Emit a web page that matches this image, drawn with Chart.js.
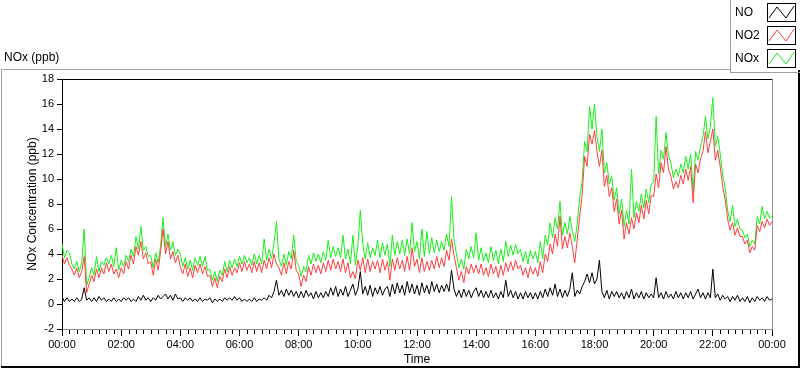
<!DOCTYPE html>
<html>
<head>
<meta charset="utf-8">
<script src="https://cdn.jsdelivr.net/npm/chart.js@4.4.1/dist/chart.umd.min.js"></script>
<style>
  body { margin: 0; background: #fff; }
  canvas { display: block; }
</style>
</head>
<body>
<canvas id="noxChart" width="800" height="369"></canvas>
<script>
// ===== DATA (5 minute steps, 00:00 -> 24:00) =====
const STEP_MIN = 5;

// NO2 (ppb) - red
const no2 = [
  3.9, 3.2, 3.7, 3.1, 2.8, 2.3, 2.9, 2.1, 2.6, 3.8, 0.9, 1.6,
  2.3, 1.8, 2.8, 2.1, 2.9, 2.4, 3.3, 2.6, 3.2, 2.4, 2.8, 2.1,
  2.9, 2.4, 3.4, 2.8, 3.9, 3.2, 4.6, 3.9, 5.0, 3.6, 4.1, 3.2,
  3.4, 2.3, 3.6, 2.7, 4.2, 6.0, 4.0, 5.0, 3.6, 4.2, 3.3, 3.9,
  3.0, 2.4, 3.2, 2.2, 2.9, 2.1, 3.1, 2.5, 3.2, 2.4, 3.0, 2.2,
  2.3, 1.4, 2.1, 1.3, 2.2, 1.8, 2.8, 2.1, 3.0, 2.3, 2.9, 2.5,
  3.3, 2.6, 3.4, 2.7, 3.2, 2.5, 3.4, 2.6, 3.3, 2.5, 3.5, 2.8,
  3.7, 2.9, 4.0, 3.2, 2.9, 2.3, 3.3, 2.4, 3.4, 2.8, 4.3, 2.7,
  2.4, 1.4, 2.3, 1.8, 3.0, 2.3, 3.2, 2.5, 3.1, 2.4, 3.3, 2.6,
  3.5, 2.7, 3.6, 2.8, 3.4, 2.6, 3.6, 2.5, 3.3, 2.1, 2.6, 2.0,
  3.5, 2.7, 3.7, 2.5, 3.6, 2.6, 3.4, 2.8, 3.5, 2.5, 3.6, 2.7,
  3.4, 1.9, 3.6, 2.7, 3.7, 2.8, 3.5, 2.6, 3.8, 2.7, 4.5, 3.0,
  3.6, 2.5, 3.7, 2.6, 3.4, 2.7, 3.5, 2.8, 3.8, 2.9, 3.7, 3.0,
  4.3, 3.5, 5.2, 3.9, 2.9, 1.9, 2.6, 1.7, 3.0, 2.4, 3.2, 2.5,
  3.1, 2.4, 3.2, 2.3, 2.9, 2.2, 3.2, 2.4, 3.0, 2.1, 3.1, 2.3,
  3.3, 2.6, 3.4, 2.7, 3.5, 2.8, 3.1, 2.3, 2.9, 2.1, 3.0, 2.4,
  2.9, 2.2, 3.4, 2.5, 4.0, 3.4, 4.8, 4.0, 5.6, 4.6, 7.0, 4.4,
  5.4, 4.5, 5.7, 4.6, 3.3, 5.2, 7.0, 8.8, 11.8, 11.0, 13.6, 12.8,
  13.9, 12.2, 11.0, 12.3, 9.4, 10.3, 8.6, 9.3, 7.4, 8.4, 6.4, 7.5,
  5.2, 6.5, 5.6, 6.9, 6.0, 7.3, 6.5, 7.9, 6.8, 8.3, 7.2, 8.7,
  8.6, 10.4, 9.3, 11.3, 10.5, 12.6, 10.8, 10.2, 9.2, 9.8, 9.3, 10.3,
  9.6, 10.8, 9.9, 11.0, 8.1, 11.2, 10.5, 11.6, 12.2, 13.8, 12.1, 13.0,
  14.0, 11.5, 12.3, 11.0, 9.4, 8.4, 6.8, 5.9, 6.5, 5.5, 6.1, 5.4,
  5.4, 4.8, 5.1, 4.1, 4.6, 4.3, 6.3, 5.8, 6.6, 6.1, 6.8, 6.3,
  6.6
];

// NOx (ppb) - green
const nox = [
  4.8, 3.7, 4.3, 4.1, 3.2, 2.8, 3.4, 2.6, 3.3, 6.0, 1.5, 2.1,
  2.9, 2.3, 3.8, 2.6, 3.4, 3.1, 3.7, 3.2, 3.9, 3.0, 4.5, 2.7,
  3.5, 3.0, 3.9, 3.4, 4.4, 3.8, 5.4, 4.4, 6.2, 4.3, 4.6, 3.8,
  3.9, 2.9, 4.1, 3.3, 4.7, 6.9, 4.6, 5.6, 4.3, 5.0, 3.9, 4.4,
  4.0, 3.0, 3.7, 2.8, 3.5, 2.7, 3.7, 3.1, 3.8, 3.0, 3.8, 2.7,
  2.8, 1.9, 2.6, 1.8, 2.7, 2.3, 3.4, 2.6, 3.5, 2.9, 3.6, 3.0,
  3.8, 3.2, 3.9, 3.3, 3.7, 3.1, 4.0, 3.2, 3.9, 3.2, 5.2, 3.5,
  4.4, 3.6, 4.9, 6.6, 3.6, 3.0, 4.0, 3.1, 4.2, 3.6, 5.5, 3.4,
  3.1, 2.2, 3.0, 2.6, 3.9, 3.2, 4.1, 3.4, 4.0, 3.3, 4.2, 3.5,
  5.1, 3.7, 4.6, 3.8, 4.5, 3.7, 5.5, 3.6, 4.4, 3.2, 5.5, 3.1,
  4.6, 7.5, 4.8, 3.6, 4.9, 3.7, 4.5, 3.9, 5.1, 3.7, 4.9, 3.9,
  4.8, 3.0, 5.5, 3.9, 5.0, 4.0, 5.1, 3.9, 5.2, 4.0, 6.5, 4.2,
  5.0, 3.6, 6.0, 3.8, 5.8, 4.0, 5.3, 4.1, 5.1, 4.2, 5.0, 4.3,
  5.6, 4.6, 8.6, 5.2, 4.0, 2.9, 3.6, 2.8, 4.4, 3.6, 4.6, 3.7,
  5.7, 3.5, 4.5, 3.4, 4.1, 3.3, 4.6, 3.5, 4.3, 3.2, 4.4, 3.4,
  5.0, 3.8, 4.7, 3.9, 4.8, 4.0, 4.4, 3.4, 4.2, 3.2, 4.3, 3.6,
  4.2, 3.3, 5.0, 3.6, 5.5, 4.7, 6.5, 5.3, 6.9, 6.0, 8.2, 5.5,
  6.5, 5.6, 7.0, 5.8, 5.0, 6.4, 8.5, 9.9, 13.0, 12.2, 15.8, 14.0,
  16.0, 13.4, 12.2, 14.0, 10.5, 11.3, 9.6, 10.2, 8.3, 9.3, 7.2, 8.4,
  6.2, 7.5, 6.4, 10.8, 6.9, 8.2, 7.4, 8.8, 7.7, 9.2, 8.1, 9.6,
  9.7, 15.0, 10.4, 12.3, 11.6, 13.7, 11.9, 11.3, 10.1, 10.8, 10.2, 11.2,
  10.5, 11.8, 10.8, 12.0, 9.0, 12.2, 11.5, 12.6, 13.4, 15.0, 13.2, 14.2,
  16.5, 12.6, 13.4, 12.0, 10.3, 9.3, 7.5, 6.6, 7.9, 6.2, 6.8, 6.0,
  5.9, 5.3, 5.6, 4.6, 5.1, 4.8, 7.0, 6.4, 7.8, 6.8, 7.4, 6.9,
  7.0
];

// NO (ppb) - black
const no = [
  0.6, 0.2, 0.5, 0.2, 0.4, 0.2, 0.5, 0.2, 0.4, 1.3, 0.3, 0.5,
  0.2, 0.5, 0.2, 0.6, 0.3, 0.5, 0.2, 0.4, 0.2, 0.5, 0.2, 0.4,
  0.2, 0.5, 0.3, 0.5, 0.2, 0.4, 0.2, 0.6, 0.3, 0.7, 0.3, 0.5,
  0.2, 0.5, 0.3, 0.7, 0.4, 0.6, 0.8, 0.4, 0.7, 0.3, 0.8, 0.4,
  0.5, 0.2, 0.5, 0.3, 0.5, 0.2, 0.4, 0.2, 0.5, 0.2, 0.4, 0.3,
  0.5, 0.1, 0.4, 0.2, 0.4, 0.2, 0.5, 0.3, 0.5, 0.3, 0.6, 0.3,
  0.5, 0.2, 0.4, 0.2, 0.4, 0.2, 0.5, 0.2, 0.4, 0.3, 0.5, 0.3,
  0.7, 0.5, 1.0, 1.9, 0.7, 1.1, 0.6, 1.2, 0.7, 1.1, 0.6, 1.0,
  0.5, 1.0, 0.5, 1.1, 0.6, 0.9, 0.4, 1.0, 0.5, 0.9, 0.5, 1.0,
  0.6, 1.3, 0.7, 1.4, 0.6, 1.2, 0.7, 1.4, 0.6, 1.1, 1.6, 0.7,
  1.2, 2.6, 0.8, 1.4, 0.7, 1.5, 0.6, 1.3, 0.8, 1.4, 0.7, 1.2,
  1.4, 0.6, 1.6, 0.8, 1.7, 0.9, 1.5, 0.7, 1.8, 0.9, 1.6, 0.8,
  1.5, 0.7, 1.7, 0.9, 1.5, 0.8, 1.8, 1.0, 1.6, 0.9, 1.5, 1.0,
  1.6, 1.0, 2.7, 1.2, 0.6, 1.1, 0.5, 1.2, 0.6, 1.1, 0.5, 1.0,
  1.3, 0.6, 1.1, 0.5, 1.0, 0.5, 1.1, 0.5, 0.9, 0.4, 1.0, 0.5,
  1.9, 0.6, 1.1, 0.5, 1.0, 0.4, 0.9, 0.4, 1.0, 0.5, 0.9, 0.4,
  0.9, 0.4, 1.0, 0.5, 1.2, 0.6, 1.3, 0.7, 1.6, 0.6, 1.2, 0.5,
  1.1, 0.6, 1.2, 2.5, 0.6, 1.1, 0.8, 1.4, 1.8, 2.4, 1.7, 2.5,
  1.6, 2.0, 3.5, 1.0, 0.5, 1.1, 0.4, 1.0, 0.6, 1.0, 0.5, 0.9,
  0.4, 1.0, 0.5, 1.2, 0.4, 0.9, 0.5, 1.0, 0.4, 0.9, 0.5, 0.8,
  0.5, 2.1, 0.5, 0.9, 0.4, 1.0, 0.5, 0.8, 0.4, 1.0, 0.5, 0.9,
  0.4, 0.9, 0.5, 1.0, 0.4, 0.8, 1.2, 0.5, 0.9, 0.4, 0.9, 0.5,
  2.8, 0.5, 0.8, 0.3, 0.7, 0.4, 0.6, 0.2, 0.6, 0.3, 0.7, 0.2,
  0.5, 0.2, 0.6, 0.1, 0.5, 0.2, 0.6, 0.3, 0.5, 0.2, 0.6, 0.3,
  0.4
];

// minutes since midnight for each sample
const minutes = no.map((_, i) => i * STEP_MIN);

const yTicks = [-2, 0, 2, 4, 6, 8, 10, 12, 14, 16, 18];
const legendNames = ["NO", "NO2", "NOx"];
const colors = ["#000000", "#ff4040", "#19f019"];

const FONT = "'Liberation Sans', Arial, sans-serif";

function fmtTime(m) {
    const h = Math.floor(m / 60) % 24;
    const mm = m % 60;
    return String(h).padStart(2, "0") + ":" + String(mm).padStart(2, "0");
}

// ===== FRAME / LEGEND / TITLES =====
const panelPlugin = {
    id: "panel",
    beforeDraw(chart) {
        const c = chart.ctx;
        c.save();
        c.fillStyle = "#fff";
        c.fillRect(0, 0, chart.width, chart.height);
        c.restore();
    },
    afterDraw(chart) {
        const c = chart.ctx;
        const a = chart.chartArea;
        const xs = chart.scales.x;
        c.save();

        // outer panel
        c.lineWidth = 1;
        c.strokeStyle = "#a0a0a0";
        c.beginPath();
        c.moveTo(1.5, 368); c.lineTo(1.5, 69.5); c.lineTo(731, 69.5);
        c.stroke();
        c.strokeStyle = "#000";
        c.lineWidth = 2;
        c.beginPath();
        c.moveTo(1, 367); c.lineTo(799, 367); c.lineTo(799, 70);
        c.stroke();

        // plot frame: top black, right grey
        c.lineWidth = 1;
        c.strokeStyle = "#000";
        c.beginPath();
        c.moveTo(a.left, a.top + 0.5); c.lineTo(a.right, a.top + 0.5);
        c.stroke();
        c.strokeStyle = "#909090";
        c.beginPath();
        c.moveTo(a.right + 0.5, a.top); c.lineTo(a.right + 0.5, a.bottom + 1);
        c.stroke();

        // minor x ticks every 15 min
        c.strokeStyle = "#000";
        c.beginPath();
        for (let m = 15; m < 1440; m += 15) {
            if (m % 120 === 0) continue;
            const px = Math.round(xs.getPixelForValue(m)) + 0.5;
            c.moveTo(px, a.bottom + 1); c.lineTo(px, a.bottom + 5);
        }
        c.stroke();

        // title
        c.fillStyle = "#000";
        c.font = "12px " + FONT;
        c.textBaseline = "middle";
        c.textAlign = "left";
        c.fillText("NOx (ppb)", 4, 58);

        // axis titles
        c.textAlign = "center";
        c.fillText("Time", (a.left + a.right) / 2, 360);
        c.save();
        c.translate(33, (a.top + a.bottom) / 2);
        c.rotate(-Math.PI / 2);
        c.fillText("NOx Concentration (ppb)", 0, 0);
        c.restore();

        // legend box
        c.strokeStyle = "#a0a0a0";
        c.lineWidth = 1;
        c.strokeRect(730.5, -1, 70, 73.5);
        const rows = [3, 26, 49];
        legendNames.forEach((name, i) => {
            const ty = rows[i];
            c.fillStyle = "#000";
            c.textAlign = "left";
            c.fillText(name, 735, ty + 10);
            c.fillStyle = "#fff";
            c.fillRect(767, ty, 29, 19);
            c.strokeStyle = "#000";
            c.strokeRect(767.5, ty + 0.5, 28, 18);
            c.strokeStyle = colors[i];
            c.beginPath();
            c.moveTo(769, ty + 15);
            c.lineTo(777, ty + 4);
            c.lineTo(786, ty + 15);
            c.lineTo(794, ty + 3);
            c.stroke();
        });

        c.restore();
    }
};

// ===== CHART =====
new Chart(document.getElementById("noxChart"), {
    type: "line",
    data: {
        labels: minutes,
        datasets: [
            { label: "NO", data: no, borderColor: colors[0] },
            { label: "NO2", data: no2, borderColor: colors[1] },
            { label: "NOx", data: nox, borderColor: colors[2] }
        ]
    },
    options: {
        responsive: false,
        animation: false,
        events: [],
        elements: {
            line: { borderWidth: 1, tension: 0 },
            point: { radius: 0 }
        },
        layout: { padding: { top: 79, right: 28, left: 0, bottom: 0 } },
        plugins: {
            legend: { display: false },
            tooltip: { enabled: false }
        },
        scales: {
            x: {
                type: "linear",
                min: 0,
                max: 1440,
                afterFit: s => { s.height = 40; },
                afterBuildTicks: s => {
                    s.ticks = [];
                    for (let m = 0; m <= 1440; m += 120) s.ticks.push({ value: m });
                },
                border: { color: "#909090", width: 1 },
                grid: { drawOnChartArea: false, tickLength: 7, tickColor: "#000" },
                ticks: {
                    autoSkip: false,
                    maxRotation: 0,
                    padding: 2,
                    color: "#000",
                    font: { family: FONT, size: 11 },
                    callback: v => fmtTime(v)
                }
            },
            y: {
                min: -2,
                max: 18,
                afterFit: s => { s.width = 62; },
                afterBuildTicks: s => { s.ticks = yTicks.map(v => ({ value: v })); },
                border: { color: "#000", width: 1 },
                grid: { drawOnChartArea: false, tickLength: 5, tickColor: "#000" },
                ticks: {
                    padding: 3,
                    color: "#000",
                    font: { family: FONT, size: 11 }
                }
            }
        }
    },
    plugins: [panelPlugin]
});
</script>
</body>
</html>
